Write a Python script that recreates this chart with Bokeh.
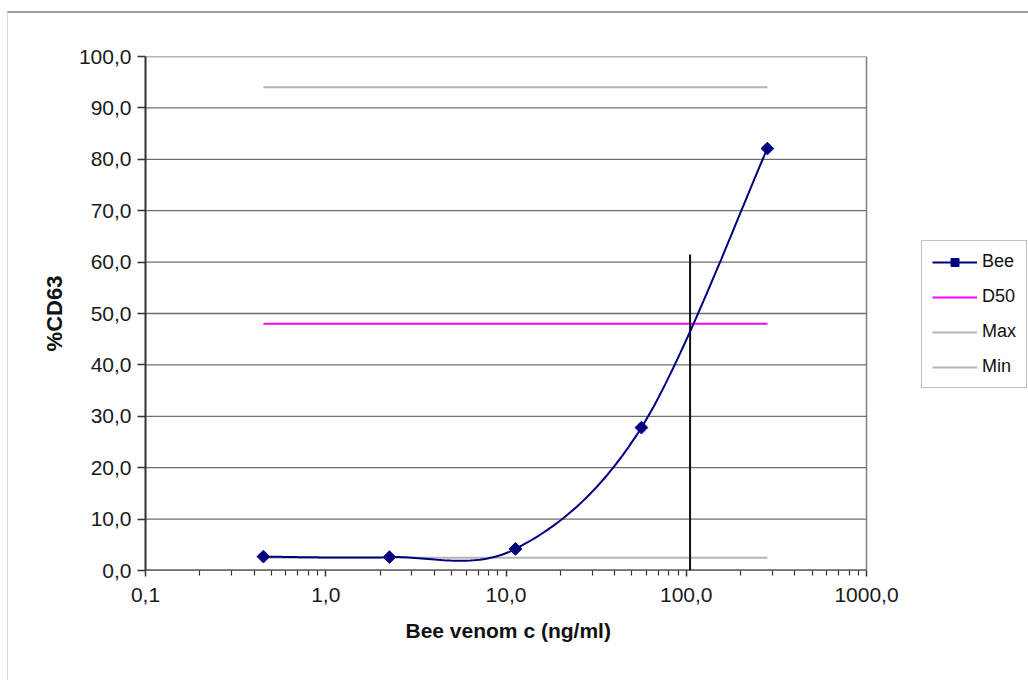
import numpy as np
from bokeh.plotting import figure
from bokeh.models import FixedTicker, Legend, LegendItem, Title
from bokeh.embed import file_html
from bokeh.resources import INLINE

# ---- data ----
conc = [0.451, 2.256, 11.28, 56.4, 282.0]          # Bee venom c (ng/ml)
cd63 = [2.7, 2.6, 4.2, 27.8, 82.1]                 # %CD63
d50_level = 48.0
max_level = 94.0
min_level = 2.5
d50_conc = 105.0
d50_marker_top = 61.5

y_ticks = [0, 10, 20, 30, 40, 50, 60, 70, 80, 90, 100]
y_tick_labels = ["0,0", "10,0", "20,0", "30,0", "40,0", "50,0",
                 "60,0", "70,0", "80,0", "90,0", "100,0"]
x_ticks = [0.1, 1, 10, 100, 1000]
x_tick_labels = ["0,1", "1,0", "10,0", "100,0", "1000,0"]
x_title = "Bee venom c (ng/ml)"
y_title = "%CD63"

FONT = "Liberation Sans"

# ---- smoothed line (Excel-style Bezier through the data points) ----
u = np.log10(np.array(conc))
v = np.array(cd63)
su, sv = [], []
n = len(u)
for i in range(n - 1):
    p0 = (u[max(i - 1, 0)], v[max(i - 1, 0)])
    p1 = (u[i], v[i])
    p2 = (u[i + 1], v[i + 1])
    p3 = (u[min(i + 2, n - 1)], v[min(i + 2, n - 1)])
    c1 = (p1[0] + (p2[0] - p0[0]) / 6, p1[1] + (p2[1] - p0[1]) / 6)
    c2 = (p2[0] - (p3[0] - p1[0]) / 6, p2[1] - (p3[1] - p1[1]) / 6)
    t = np.linspace(0, 1, 40)
    bu = (1-t)**3*p1[0] + 3*(1-t)**2*t*c1[0] + 3*(1-t)*t**2*c2[0] + t**3*p2[0]
    bv = (1-t)**3*p1[1] + 3*(1-t)**2*t*c1[1] + 3*(1-t)*t**2*c2[1] + t**3*p2[1]
    su.extend(bu.tolist())
    sv.extend(bv.tolist())
smooth_x = (10 ** np.array(su)).tolist()
smooth_y = sv

# The drawing area is extended to the right edge so the legend can sit in it;
# the visible plot area (0.1 .. 1000) keeps 721 px, the rest is blank.
PLOT_W = 721
FRAME_W = 883
decades = np.log10(x_ticks[-1]) - np.log10(x_ticks[0])
x_end = x_ticks[-1] * 10 ** (decades * (FRAME_W - PLOT_W) / PLOT_W)

p = figure(frame_width=FRAME_W, frame_height=514, x_axis_type="log",
           x_range=(x_ticks[0], x_end), y_range=(y_ticks[0], y_ticks[-1]),
           output_backend="svg", toolbar_location=None,
           min_border_left=137, min_border_right=0,
           min_border_top=43, min_border_bottom=110)
# outer chart frame (light grey border of the chart area)
p.styles = {"margin-top": "11px", "margin-left": "7px",
            "border-top": "2px solid #a0a0a0", "border-left": "1px solid #dcdcdc"}
p.background_fill_color = "white"
p.border_fill_color = "white"
p.outline_line_color = None
p.xgrid.visible = False
p.ygrid.visible = False

# plot-area grid lines and right border, limited to 0.1 .. 1000
n_y = len(y_ticks)
p.segment(x0=[x_ticks[0]] * n_y, y0=y_ticks, x1=[x_ticks[-1]] * n_y, y1=y_ticks,
          line_color="#6e6e6e", line_width=1.3)
p.segment(x0=[x_ticks[-1]], y0=[y_ticks[0]], x1=[x_ticks[-1]], y1=[y_ticks[-1]],
          line_color="#808080", line_width=1.5)

# axes
minor = [m * 10.0 ** k for k in range(-1, 3) for m in range(2, 10)]
xa = p.xaxis[0]
xa.ticker = FixedTicker(ticks=x_ticks, minor_ticks=minor)
xa.major_label_overrides = {t: l for t, l in zip(x_ticks, x_tick_labels)}
ya = p.yaxis[0]
ya.ticker = FixedTicker(ticks=y_ticks)
ya.major_label_overrides = {t: l for t, l in zip(y_ticks, y_tick_labels)}
ya.axis_label = y_title
for ax in (xa, ya):
    ax.axis_line_color = "#333333"
    ax.axis_line_width = 2
    ax.major_tick_line_color = "#333333"
    ax.minor_tick_line_color = "#333333"
    ax.major_tick_line_width = 1.5
    ax.minor_tick_line_width = 1.2
    ax.major_tick_in = 0
    ax.minor_tick_in = 0
    ax.major_label_text_font = FONT
    ax.major_label_text_font_size = "21px"
    ax.major_label_text_color = "#1a1a1a"
    ax.axis_label_text_font = FONT
    ax.axis_label_text_font_size = "22px"
    ax.axis_label_text_font_style = "bold"
    ax.axis_label_text_color = "#111111"
xa.axis_line_color = None   # drawn below only across the plot area
xa.major_tick_out = 6
xa.minor_tick_out = 5
xa.major_label_standoff = 11
ya.major_tick_out = 8
ya.minor_tick_out = 0
ya.major_label_standoff = 6
ya.axis_label_standoff = 9

# x-axis title, centred under the plot area (0.1 .. 1000)
p.add_layout(Title(text=x_title, align="left", offset=260, standoff=25,
                   text_font=FONT, text_font_size="21px", text_font_style="bold",
                   text_color="#111111"), "below")

p.segment(x0=[x_ticks[0]], y0=[y_ticks[0]], x1=[x_ticks[-1]], y1=[y_ticks[0]],
          line_color="#333333", line_width=2)

# reference lines
x_span = [conc[0], conc[-1]]
r_max = p.line(x_span, [max_level, max_level], line_color="#b4b4b4", line_width=2)
r_min = p.line(x_span, [min_level, min_level], line_color="#b4b4b4", line_width=2)
r_d50 = p.line(x_span, [d50_level, d50_level], line_color="#ff00ff", line_width=2)
p.segment(x0=[d50_conc], y0=[0], x1=[d50_conc], y1=[d50_marker_top],
          line_color="#111111", line_width=2)

# data series
r_line = p.line(smooth_x, smooth_y, line_color="#00007f", line_width=2)
r_pts = p.scatter(conc, cd63, marker="square", size=9, angle=np.pi / 4,
                  fill_color="#00007f", line_color="#00007f")

legend = Legend(items=[
    LegendItem(label="Bee", renderers=[r_line, r_pts]),
    LegendItem(label="D50", renderers=[r_d50]),
    LegendItem(label="Max", renderers=[r_max]),
    LegendItem(label="Min", renderers=[r_min]),
], location=(776, 182))
legend.margin = 0
legend.padding = 10
legend.spacing = 14
legend.glyph_width = 45
legend.glyph_height = 20
legend.label_height = 20
legend.label_standoff = 5
legend.label_text_font = FONT
legend.label_text_font_size = "18px"
legend.label_text_color = "#111111"
legend.border_line_color = "#808080"
legend.border_line_width = 1.5
legend.background_fill_color = "white"
legend.background_fill_alpha = 1
p.add_layout(legend, "center")

open("out.html", "w").write(file_html(p, INLINE))
